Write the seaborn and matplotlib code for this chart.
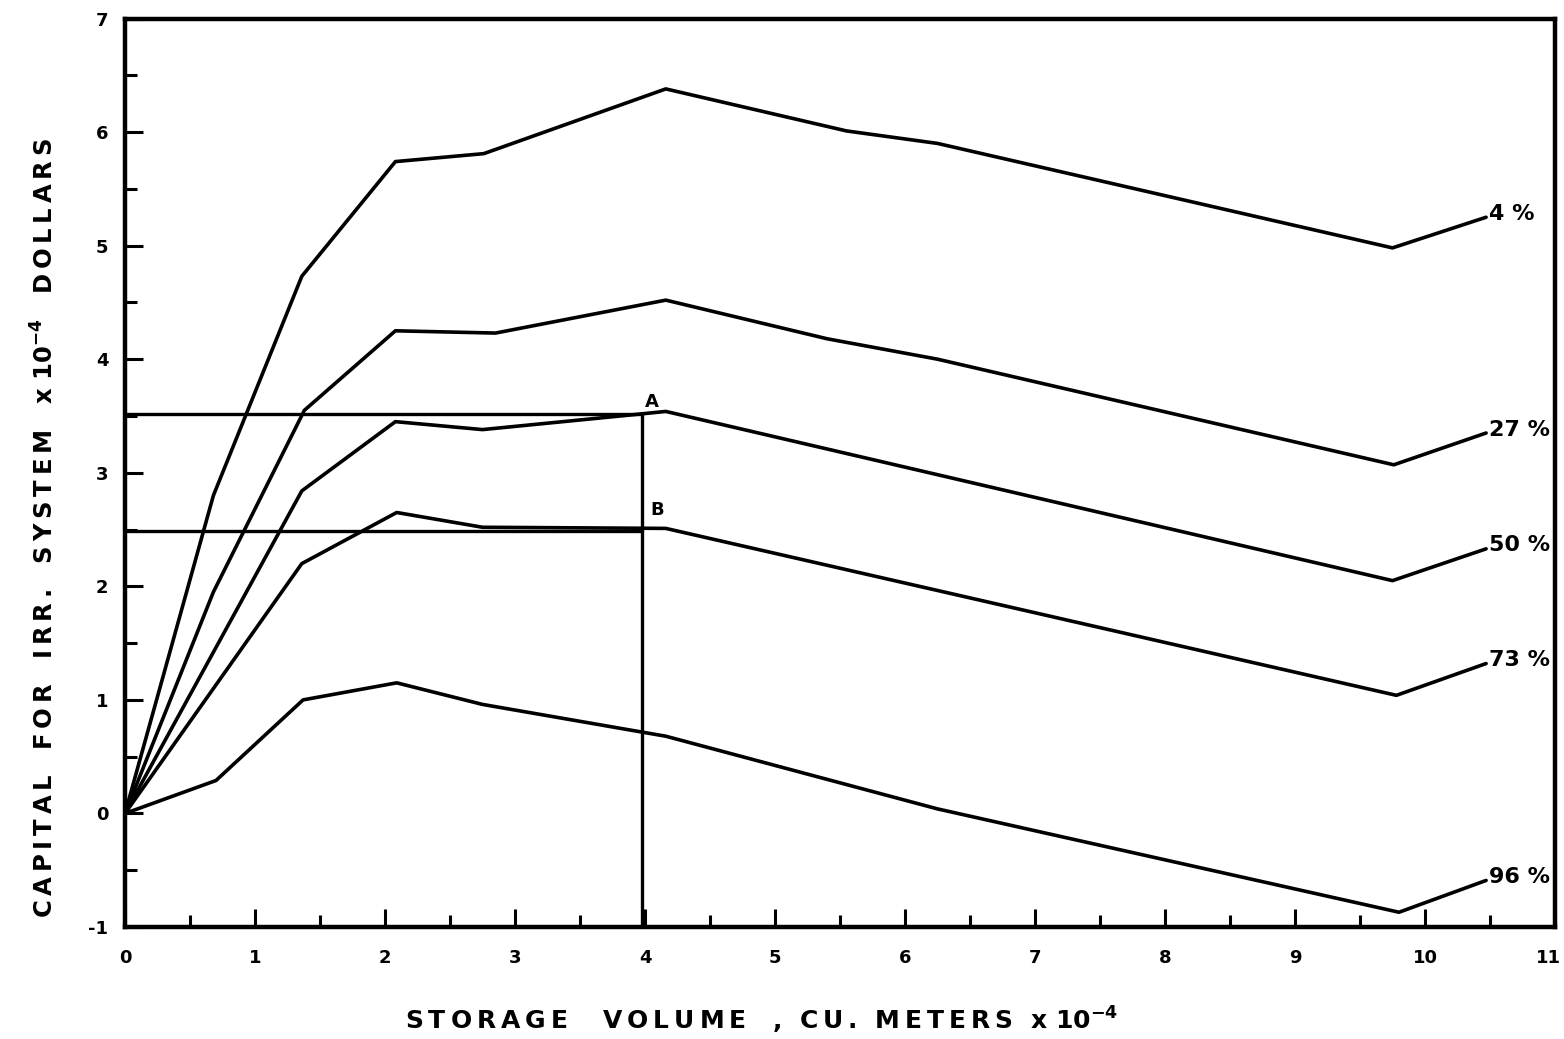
import matplotlib
matplotlib.use("Agg")
import matplotlib.pyplot as plt
import matplotlib.transforms as mtransforms
import seaborn as sns
import pandas as pd
import numpy as np
from matplotlib.ticker import MultipleLocator

# ---------------- data ----------------
x_4 = [0, 0.68, 1.36, 2.08, 2.76, 4.16, 5.55, 6.25, 9.75, 10.47]
y_4 = [0, 2.80, 4.73, 5.74, 5.81, 6.38, 6.01, 5.90, 4.98, 5.25]

x_27 = [0, 0.68, 1.38, 2.08, 2.85, 4.16, 5.40, 6.25, 9.76, 10.47]
y_27 = [0, 1.95, 3.55, 4.25, 4.23, 4.52, 4.18, 4.00, 3.07, 3.35]

x_50 = [0, 1.36, 2.08, 2.75, 3.90, 4.16, 9.75, 10.47]
y_50 = [0, 2.84, 3.45, 3.38, 3.51, 3.54, 2.05, 2.33]

x_73 = [0, 1.36, 2.09, 2.75, 4.16, 9.78, 10.47]
y_73 = [0, 2.20, 2.65, 2.52, 2.51, 1.04, 1.32]

x_96 = [0, 0.70, 1.37, 2.09, 2.75, 4.16, 6.25, 9.80, 10.47]
y_96 = [0, 0.29, 1.00, 1.15, 0.96, 0.68, 0.04, -0.87, -0.59]

series_labels = ["4 %", "27 %", "50 %", "73 %", "96 %"]

# guide lines A / B
guide_A_x = [0, 3.98]
guide_A_y = [3.52, 3.52]
guide_B_x = [0, 3.98]
guide_B_y = [2.49, 2.49]
guide_V_x = [3.98, 3.98]
guide_V_y = [-1, 3.52]

x_ticks = list(range(0, 12))
y_ticks = list(range(-1, 8))

x_label_words = ["STORAGE", "VOLUME", ",", "CU.", "METERS", "x 10$^{-4}$"]
y_label_words = ["CAPITAL", "FOR", "IRR.", "SYSTEM", "x 10$^{-4}$", "DOLLARS"]

# ---------------- build long-form table ----------------
xs_all = [x_4, x_27, x_50, x_73, x_96]
ys_all = [y_4, y_27, y_50, y_73, y_96]
rows = []
for lab, xs, ys in zip(series_labels, xs_all, ys_all):
    for i, (xv, yv) in enumerate(zip(xs, ys)):
        rows.append({"series": lab, "x": xv, "y": yv, "order": i})
df = pd.DataFrame(rows)

guides = pd.DataFrame(
    [{"g": "A", "x": a, "y": b} for a, b in zip(guide_A_x, guide_A_y)]
    + [{"g": "B", "x": a, "y": b} for a, b in zip(guide_B_x, guide_B_y)]
    + [{"g": "V", "x": a, "y": b} for a, b in zip(guide_V_x, guide_V_y)]
)

# ---------------- styling ----------------
sns.set_theme(style="white")
plt.rcParams["font.family"] = ["DejaVu Sans"]
plt.rcParams["mathtext.default"] = "bf"
plt.rcParams["text.color"] = "black"
plt.rcParams["axes.labelcolor"] = "black"


def spaced(word):
    # letter-spacing with thin spaces (keeps real text)
    if "$" in word:
        return word
    return "\u2009".join(list(word))


W, H = 1564, 1039
fig = plt.figure(figsize=(W / 100, H / 100), dpi=100)
ax = fig.add_axes([125 / W, 1 - 927 / H, (1555 - 125) / W, (927 - 18.5) / H])

sns.lineplot(data=df, x="x", y="y", hue="series", units="series",
             estimator=None, sort=False, palette=["black"] * 5,
             linewidth=2.6, legend=False, ax=ax)
sns.lineplot(data=guides, x="x", y="y", hue="g", units="g",
             estimator=None, sort=False, palette=["black"] * 3,
             linewidth=2.4, legend=False, ax=ax)

ax.set_xlim(0, 11)
ax.set_ylim(-1, 7)

for s in ax.spines.values():
    s.set_color("black")
    s.set_linewidth(3.2)

ax.xaxis.set_minor_locator(MultipleLocator(0.5))
ax.yaxis.set_minor_locator(MultipleLocator(0.5))
ax.set_xticks(x_ticks)
ax.set_yticks(y_ticks)
ax.set_xticklabels([str(v) for v in x_ticks])
ax.set_yticklabels([str(v) for v in y_ticks])

ax.tick_params(axis="both", which="major", direction="in", length=13, width=2.2,
               color="black", labelsize=13, labelcolor="black")
ax.tick_params(axis="both", which="minor", direction="in", length=8.5, width=2.2,
               color="black")
ax.tick_params(axis="x", which="both", pad=16, bottom=True, top=False)
ax.tick_params(axis="y", which="both", pad=12, left=True, right=False)
for t in ax.get_xticklabels() + ax.get_yticklabels():
    t.set_fontweight("bold")
    t.set_color("black")
# keep the last x tick label ("11") inside the canvas
last = ax.get_xticklabels()[-1]
last.set_transform(last.get_transform()
                   + mtransforms.ScaledTranslation(-7 / 100, 0, fig.dpi_scale_trans))

ax.set_xlabel("")
ax.set_ylabel("")

# curve labels at the end of their leader lines
for lab, xs, ys in zip(series_labels, xs_all, ys_all):
    ax.text(xs[-1] + 0.02, ys[-1] + 0.03, lab, ha="left", va="center",
            fontsize=16, fontweight="bold", color="black")

ax.text(guide_V_x[0] + 0.02, guide_A_y[0] + 0.02, "A", ha="left", va="bottom",
        fontsize=13, fontweight="bold", color="black")
ax.text(guide_V_x[0] + 0.06, guide_B_y[0] + 0.1, "B", ha="left", va="bottom",
        fontsize=13, fontweight="bold", color="black")

s = [spaced(w) for w in x_label_words]
xl = s[0] + "    " + s[1] + "   " + s[2] + "  " + s[3] + "  " + s[4] + "  " + s[5]
fig.text(762 / W, 1 - 1020 / H, xl,
         ha="center", va="center", fontsize=18, fontweight="bold", color="black")
yl = "   ".join(spaced(w) for w in y_label_words)
fig.text(45 / W, 1 - 528 / H, yl,
         ha="center", va="center", rotation=90, fontsize=17.5, fontweight="bold",
         color="black")

fig.savefig("out.png", dpi=100, facecolor="white")
